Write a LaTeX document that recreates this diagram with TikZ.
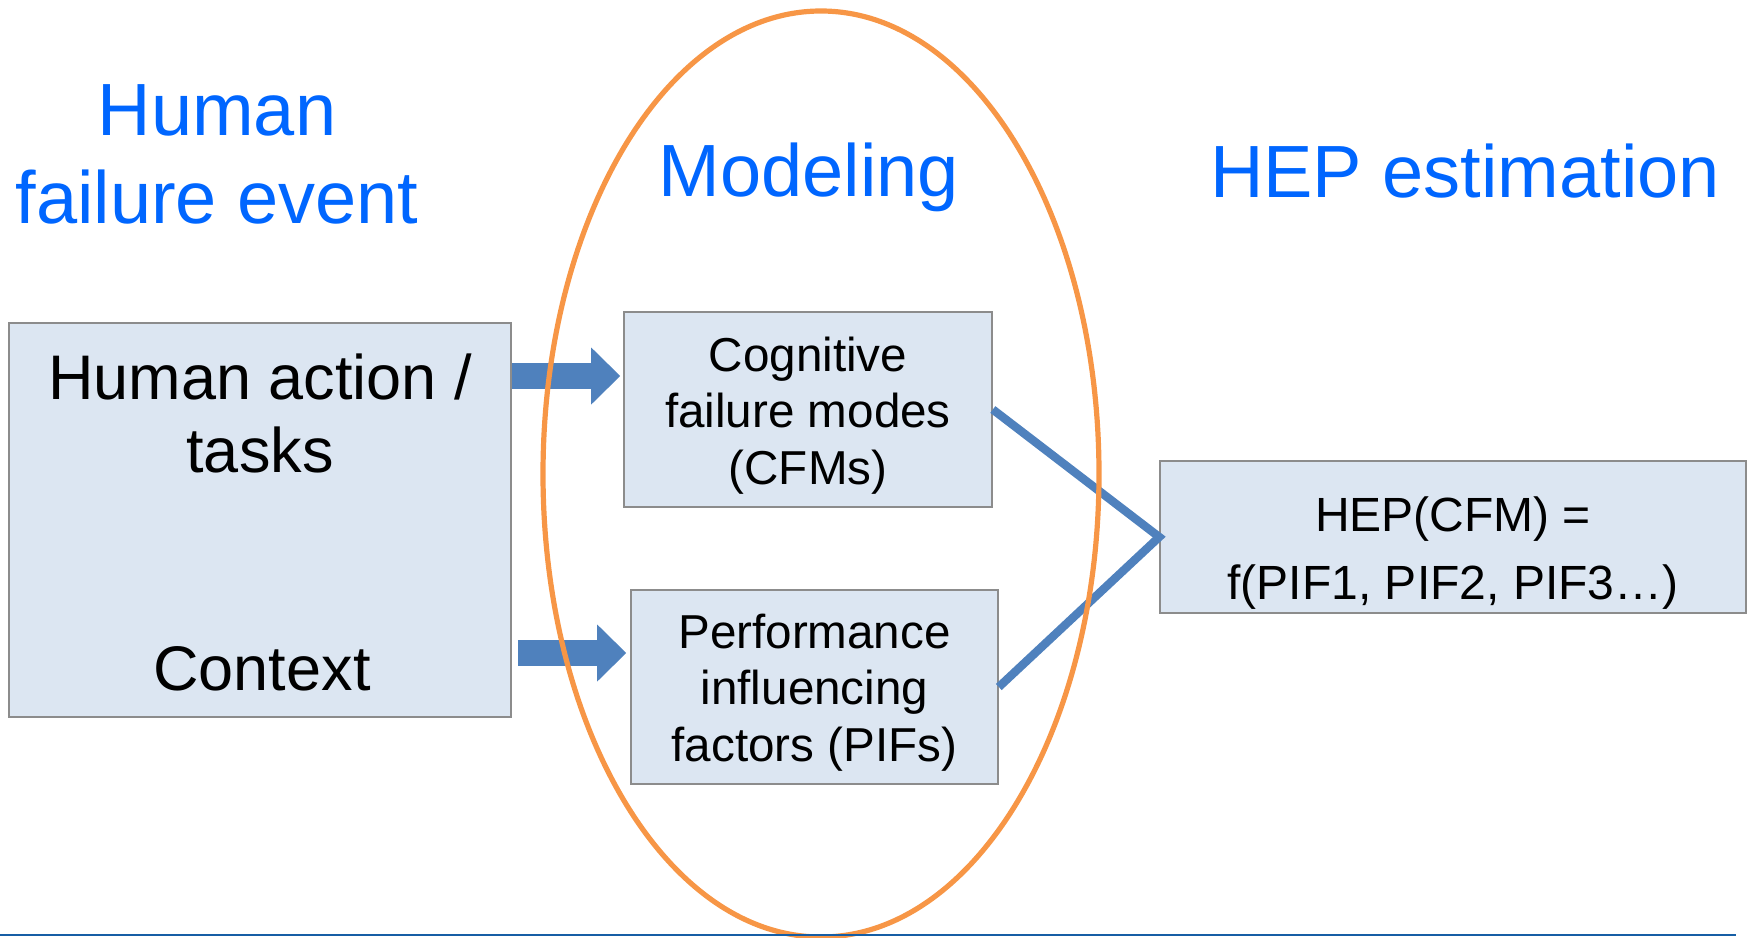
\documentclass[tikz,border=0pt]{standalone}
\usepackage{fontspec}
\setmainfont{Liberation Sans}
\usetikzlibrary{arrows.meta}
\definecolor{titleblue}{RGB}{0,102,255}
\definecolor{boxfill}{RGB}{220,230,242}
\definecolor{boxline}{RGB}{140,140,140}
\definecolor{accentblue}{RGB}{79,129,189}
\definecolor{ringorange}{RGB}{247,150,70}
\definecolor{rulerblue}{RGB}{22,94,165}
% centred multi-line text whose baseline is that of its first line
\newcommand{\linestack}[1]{\begin{tabular}[t]{@{}c@{}}#1\end{tabular}}

\begin{document}
\begin{tikzpicture}[x=0.5pt,y=-0.5pt,
  heading/.style={anchor=base,inner sep=0,text=titleblue,font=\fontsize{37}{44}\selectfont},
  panel/.style={draw=boxline,line width=0.8pt,fill=boxfill,inner sep=0},
  label/.style={anchor=base,inner sep=0},
  bigtext/.style={label,font=\fontsize{31.5}{36.5}\selectfont},
  smalltext/.style={label,font=\fontsize{23.8}{28.3}\selectfont},
  blockarrow/.style={draw=accentblue,line width=13pt,
    -{Triangle[length=14.5pt,width=28.5pt,line width=0pt]}},
  link/.style={draw=accentblue,line width=4.2pt,line join=miter}
]
\useasboundingbox (0,0) rectangle (1749,937);

% column headings
\node[heading] (hfe) at (217,135) {\linestack{Human\\failure event}};
\node[heading] (model) at (809,196) {Modeling};
\node[heading] (est) at (1465,197) {HEP estimation};

% input box
\node[panel,minimum width=251pt,minimum height=197pt] (input) at (260,520) {};
\node[bigtext] (acts) at (260,399) {\linestack{Human action /\\tasks}};
\node[bigtext] (ctx) at (262,690) {Context};

% modelling boxes
\node[panel,minimum width=184pt,minimum height=97.5pt] (cfm) at (808,409.5) {};
\node[smalltext] (cfmtext) at (808,371) {\linestack{Cognitive\\failure modes\\(CFMs)}};
\node[panel,minimum width=183.5pt,minimum height=97pt] (pif) at (814.5,687) {};
\node[smalltext] (piftext) at (814.5,648) {\linestack{Performance\\influencing\\factors (PIFs)}};

% estimation box
\node[panel,minimum width=293pt,minimum height=76pt] (hep) at (1453,537) {};
\node[label,font=\fontsize{24}{34}\selectfont] (heptext) at (1453,531)
  {\linestack{HEP(CFM) =\\f(PIF1, PIF2, PIF3\ldots)}};

% block arrows into the modelling step
\draw[blockarrow,shorten >=1.5pt] (input.east |- 0,376) -- (cfm.west |- 0,376);
\draw[blockarrow,shorten <=3pt,shorten >=2pt] (input.east |- 0,653) -- (pif.west |- 0,653);

% both factors feed the estimate
\draw[link] (cfm.east) -- (hep.west) -- (pif.east);

% ring round the modelling step
\draw[ringorange,line width=2.6pt] (821,474) ellipse [x radius=139pt,y radius=231.5pt];

% footer rule
\draw[rulerblue,line width=1pt] (0,935) -- (1736,935);
\end{tikzpicture}
\end{document}
